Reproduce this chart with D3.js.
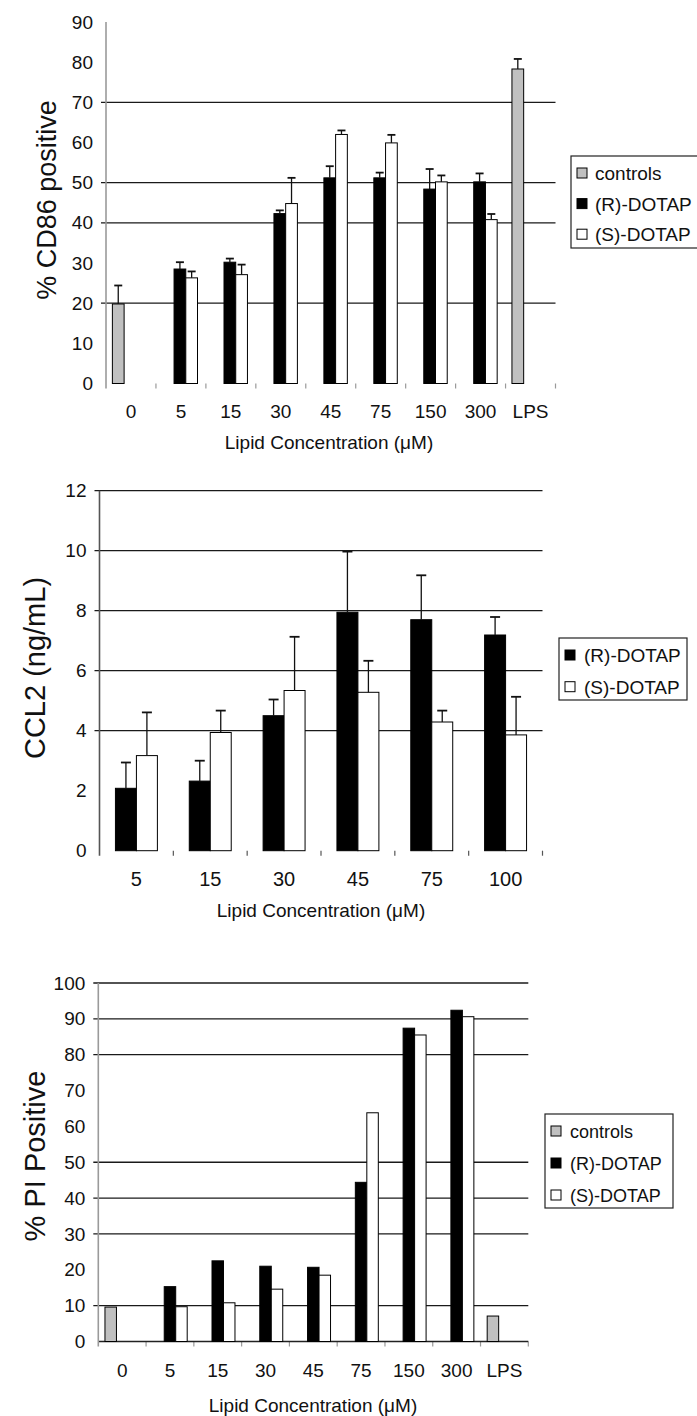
<!DOCTYPE html>
<html><head><meta charset="utf-8">
<script src="https://cdn.jsdelivr.net/npm/d3@7"></script>
<style>body{margin:0;background:#fff}svg{display:block}text{font-family:"Liberation Sans",Arial,sans-serif;fill:#111}</style>
</head><body>
<script>
// ---------- DATA ----------
const seriesNames = ["controls", "(R)-DOTAP", "(S)-DOTAP"];

// Chart 1: % CD86 positive
const cd86Categories = ["0","5","15","30","45","75","150","300","LPS"];
const cd86Controls    = [19.8, null, null, null, null, null, null, null, 78.3];
const cd86ControlsErr = [4.6,  null, null, null, null, null, null, null, 2.5];
const cd86R    = [null, 28.5, 30.2, 42.3, 51.2, 51.2, 48.4, 50.2, null];
const cd86RErr = [null, 1.7,  0.9,  0.8,  2.9,  1.3,  5.0,  2.1,  null];
const cd86S    = [null, 26.3, 27.1, 44.8, 62.0, 59.9, 50.2, 40.8, null];
const cd86SErr = [null, 1.6,  2.5,  6.4,  1.0,  2.0,  1.6,  1.4,  null];
const cd86Ticks = [0,10,20,30,40,50,60,70,80,90];
const cd86Grid  = [20,40,50,70];

// Chart 2: CCL2 (ng/mL)
const ccl2Categories = ["5","15","30","45","75","100"];
const ccl2R    = [2.08, 2.32, 4.50, 7.95, 7.70, 7.19];
const ccl2RErr = [0.86, 0.68, 0.54, 2.02, 1.48, 0.60];
const ccl2S    = [3.17, 3.94, 5.34, 5.28, 4.29, 3.86];
const ccl2SErr = [1.44, 0.73, 1.79, 1.05, 0.38, 1.27];
const ccl2Ticks = [0,2,4,6,8,10,12];
const ccl2Grid  = [4,6,8,10,12];

// Chart 3: % PI Positive
const piCategories = ["0","5","15","30","45","75","150","300","LPS"];
const piControls = [9.6, null, null, null, null, null, null, null, 7.1];
const piR = [null, 15.3, 22.5, 21.0, 20.7, 44.4, 87.4, 92.4, null];
const piS = [null, 9.7, 10.8, 14.6, 18.5, 63.8, 85.5, 90.6, null];
const piTicks = [0,10,20,30,40,50,60,70,80,90,100];
const piGrid  = [10,30,40,50,80,90,100];

const xTitle = "Lipid Concentration (\u03bcM)";

// ---------- DRAW ----------
const svg = d3.select("body").append("svg").attr("width", 697).attr("height", 1416);
const fills = {"controls": "#c0c0c0", "(R)-DOTAP": "#000", "(S)-DOTAP": "#fff"};

function chart(o) {
  const g = svg.append("g");
  const x = d3.scaleBand().domain(o.categories).range(o.xRange).padding(0);
  const x1 = d3.scaleBand().domain(o.slots).range([0, x.bandwidth()]).paddingInner(0).paddingOuter(o.outerPad);
  const y = d3.scaleLinear().domain(o.yDomain).range(o.yRange);
  const x0 = o.xRange[0], xEnd = o.xRange[1];

  // gridlines
  g.append("g").selectAll("line").data(o.grid).join("line")
    .attr("x1", x0 - 5).attr("x2", xEnd).attr("y1", d => y(d)).attr("y2", d => y(d))
    .attr("stroke", "#1a1a1a").attr("stroke-width", 1.3);

  // y axis (labels only; line drawn separately)
  const ya = g.append("g").attr("transform", `translate(${x0},0)`)
    .call(d3.axisLeft(y).tickValues(o.ticks).tickSize(0).tickPadding(o.tickPad).tickFormat(d3.format("d")));
  ya.select(".domain").remove();
  ya.selectAll("text").attr("font-size", o.yTickSize).attr("font-family", '"Liberation Sans",Arial,sans-serif').attr("fill", "#111");

  // x axis ticks at category boundaries
  const bounds = o.categories.map(c => x(c)).concat([xEnd]);
  g.append("g").selectAll("line").data(bounds.slice(1)).join("line")
    .attr("x1", d => d).attr("x2", d => d).attr("y1", y(0)).attr("y2", y(0) + 5)
    .attr("stroke", o.axisColor).attr("stroke-width", 1.2);
  if (o.baseline) {
    g.append("line").attr("x1", x0).attr("x2", xEnd).attr("y1", y(0)).attr("y2", y(0))
      .attr("stroke", "#222").attr("stroke-width", 1.3);
  }

  // bars
  o.series.forEach(s => {
    const gs = g.append("g");
    const data = o.categories.map((c, i) => ({c, v: s.values[i], e: s.err ? s.err[i] : null})).filter(d => d.v != null);
    gs.selectAll("rect").data(data).join("rect")
      .attr("x", d => x(d.c) + x1(s.slot) + o.shift)
      .attr("y", d => y(d.v))
      .attr("width", x1.bandwidth())
      .attr("height", d => y(0) - y(d.v))
      .attr("fill", fills[s.name]).attr("stroke", "#000").attr("stroke-width", 1);
    const ed = data.filter(d => d.e != null);
    const cx = d => x(d.c) + x1(s.slot) + o.shift + x1.bandwidth() / 2;
    gs.selectAll("line.ev").data(ed).join("line").attr("class", "ev")
      .attr("x1", cx).attr("x2", cx).attr("y1", d => y(d.v)).attr("y2", d => y(d.v + d.e))
      .attr("stroke", "#111").attr("stroke-width", 1.3);
    gs.selectAll("line.ec").data(ed).join("line").attr("class", "ec")
      .attr("x1", d => cx(d) - o.cap / 2).attr("x2", d => cx(d) + o.cap / 2)
      .attr("y1", d => y(d.v + d.e)).attr("y2", d => y(d.v + d.e))
      .attr("stroke", "#111").attr("stroke-width", 1.8);
  });

  // y axis line
  g.append("line").attr("x1", x0).attr("x2", x0).attr("y1", y(o.yDomain[1])).attr("y2", y(0) + 5)
    .attr("stroke", o.axisColor).attr("stroke-width", 1.6);

  // x tick labels
  g.append("g").selectAll("text").data(o.categories).join("text")
    .attr("x", d => x(d) + x.bandwidth() / 2).attr("y", o.xLabelY)
    .attr("text-anchor", "middle").attr("font-size", o.xTickSize).text(d => d);

  // titles
  g.append("text").attr("x", o.xTitlePos[0]).attr("y", o.xTitlePos[1]).attr("text-anchor", "middle")
    .attr("font-size", o.xTitleSize).text(xTitle);
  g.append("text").attr("transform", `translate(${o.yTitlePos[0]},${o.yTitlePos[1]}) rotate(-90)`)
    .attr("text-anchor", "middle").attr("font-size", o.yTitleSize).text(o.yTitle);

  // legend
  const L = o.legend;
  const lg = g.append("g");
  lg.append("rect").attr("x", L.x).attr("y", L.y).attr("width", L.w).attr("height", L.h)
    .attr("fill", "#fff").attr("stroke", "#222").attr("stroke-width", 1.2);
  L.items.forEach((name, i) => {
    const cy = L.y + L.first + i * L.step;
    lg.append("rect").attr("x", L.x + L.mx).attr("y", cy - 5).attr("width", 10).attr("height", 10)
      .attr("fill", fills[name]).attr("stroke", "#000").attr("stroke-width", 1);
    lg.append("text").attr("x", L.x + L.tx).attr("y", cy + 7).attr("font-size", L.size).text(name);
  });
}

chart({
  categories: cd86Categories, slots: seriesNames, outerPad: 0.63, shift: -1,
  xRange: [106, 555.5], yDomain: [0, 90], yRange: [383.5, 22],
  ticks: cd86Ticks, grid: cd86Grid, tickPad: 13, yTickSize: 19, axisColor: "#9a9a9a", baseline: false,
  series: [
    {name: "controls", slot: "controls", values: cd86Controls, err: cd86ControlsErr},
    {name: "(R)-DOTAP", slot: "(R)-DOTAP", values: cd86R, err: cd86RErr},
    {name: "(S)-DOTAP", slot: "(S)-DOTAP", values: cd86S, err: cd86SErr}
  ],
  cap: 8, xLabelY: 418, xTickSize: 19, xTitlePos: [329, 449], xTitleSize: 19,
  yTitle: "% CD86 positive", yTitlePos: [56, 200], yTitleSize: 27,
  legend: {x: 571, y: 156, w: 140, h: 92, first: 17, step: 30.6, mx: 6, tx: 24, size: 19,
           items: ["controls", "(R)-DOTAP", "(S)-DOTAP"]}
});

chart({
  categories: ccl2Categories, slots: ["(R)-DOTAP", "(S)-DOTAP"], outerPad: 0.76, shift: 0,
  xRange: [99.5, 542.5], yDomain: [0, 12], yRange: [850.7, 490.7],
  ticks: ccl2Ticks, grid: ccl2Grid, tickPad: 13, yTickSize: 19, axisColor: "#555", baseline: false,
  series: [
    {name: "(R)-DOTAP", slot: "(R)-DOTAP", values: ccl2R, err: ccl2RErr},
    {name: "(S)-DOTAP", slot: "(S)-DOTAP", values: ccl2S, err: ccl2SErr}
  ],
  cap: 10, xLabelY: 886, xTickSize: 20, xTitlePos: [321, 917], xTitleSize: 19,
  yTitle: "CCL2 (ng/mL)", yTitlePos: [45, 668], yTitleSize: 29,
  legend: {x: 559, y: 638, w: 128, h: 62, first: 17, step: 31.7, mx: 6, tx: 25, size: 19,
           items: ["(R)-DOTAP", "(S)-DOTAP"]}
});

chart({
  categories: piCategories, slots: seriesNames, outerPad: 0.58, shift: 0,
  xRange: [98.3, 528.3], yDomain: [0, 100], yRange: [1341.5, 983],
  ticks: piTicks, grid: piGrid, tickPad: 13, yTickSize: 19, axisColor: "#9a9a9a", baseline: true,
  series: [
    {name: "controls", slot: "controls", values: piControls},
    {name: "(R)-DOTAP", slot: "(R)-DOTAP", values: piR},
    {name: "(S)-DOTAP", slot: "(S)-DOTAP", values: piS}
  ],
  cap: 8, xLabelY: 1377, xTickSize: 19, xTitlePos: [313, 1412], xTitleSize: 19,
  yTitle: "% PI Positive", yTitlePos: [45, 1156], yTitleSize: 29,
  legend: {x: 545, y: 1114, w: 128, h: 94, first: 17, step: 32, mx: 6, tx: 25, size: 18,
           items: ["controls", "(R)-DOTAP", "(S)-DOTAP"]}
});
</script>
</body></html>
